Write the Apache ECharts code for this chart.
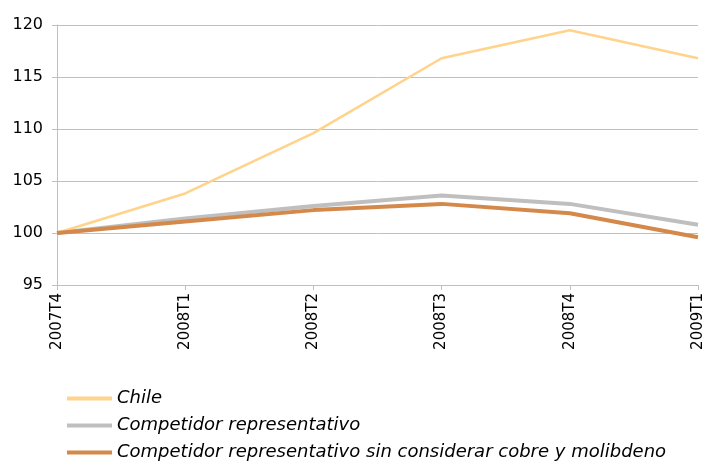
<!DOCTYPE html>
<html><head><meta charset="utf-8">
<script src="https://cdn.jsdelivr.net/npm/echarts@6/dist/echarts.min.js"></script>
<style>html,body{margin:0;padding:0;background:#fff}#c{width:707px;height:461px}</style>
</head><body><div id="c"></div>
<script>
const categories = ["2007T4","2008T1","2008T2","2008T3","2008T4","2009T1"];
const chile = [100, 103.8, 109.6, 116.8, 119.5, 116.8];
const competidor = [100, 101.4, 102.6, 103.6, 102.8, 100.8];
const competidorSinCobre = [100, 101.1, 102.2, 102.8, 101.9, 99.6];
const yTicks = {min: 95, max: 120, interval: 5};

const chart = echarts.init(document.getElementById('c'), null, {renderer: 'canvas'});
chart.setOption({
  animation: false,
  backgroundColor: '#fff',
  grid: {left: 57, right: 9, top: 25, bottom: 176, containLabel: false},
  legend: {
    orient: 'vertical', left: 67, top: 388, height: 100, itemGap: 6, padding: 0,
    itemWidth: 45, itemHeight: 4, icon: 'rect',
    textStyle: {fontFamily: 'DejaVu Sans', fontStyle: 'italic', fontSize: 18, color: '#000', lineHeight: 21, height: 21},
    data: ['Chile', 'Competidor representativo', 'Competidor representativo sin considerar cobre y molibdeno']
  },
  xAxis: {
    type: 'category', data: categories, boundaryGap: false,
    axisLine: {lineStyle: {color: '#BFBFBF', width: 1}},
    axisTick: {show: true, length: 5, lineStyle: {color: '#BFBFBF'}},
    axisLabel: {rotate: 90, fontFamily: 'DejaVu Sans', fontSize: 15, color: '#000', margin: 8},
    splitLine: {show: false}
  },
  yAxis: {
    type: 'value', min: yTicks.min, max: yTicks.max, interval: yTicks.interval,
    axisLine: {show: true, lineStyle: {color: '#BFBFBF', width: 1}},
    axisTick: {show: true, length: 5, lineStyle: {color: '#BFBFBF'}},
    axisLabel: {fontFamily: 'DejaVu Sans', fontSize: 16, color: '#000', margin: 14},
    splitLine: {lineStyle: {color: '#BFBFBF', width: 1}}
  },
  series: [
    {name: 'Chile', type: 'line', data: chile, symbol: 'none', z: 3,
     lineStyle: {color: '#FFD38A', width: 2.5}, itemStyle: {color: '#FFD38A'}},
    {name: 'Competidor representativo', type: 'line', data: competidor, symbol: 'none', z: 2,
     lineStyle: {color: '#BFBFBF', width: 4}, itemStyle: {color: '#BFBFBF'}},
    {name: 'Competidor representativo sin considerar cobre y molibdeno', type: 'line', data: competidorSinCobre, symbol: 'none', z: 4,
     lineStyle: {color: '#D4894A', width: 4}, itemStyle: {color: '#D4894A'}}
  ]
});
</script></body></html>
